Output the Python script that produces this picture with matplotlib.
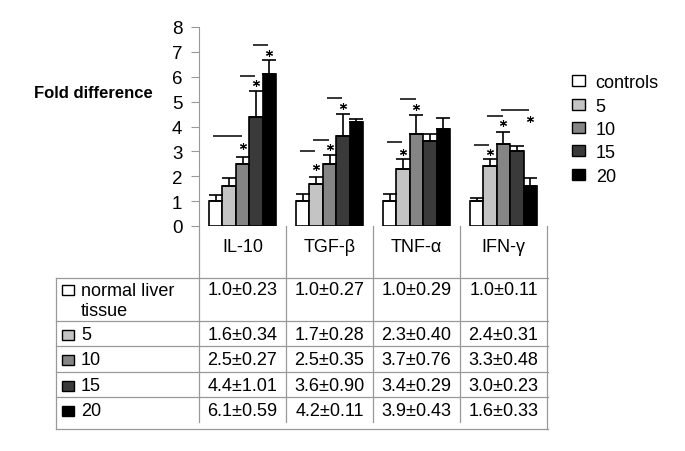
import numpy as np
import matplotlib
matplotlib.use("Agg")
import matplotlib.pyplot as plt
from matplotlib.patches import Patch, Rectangle
from matplotlib.transforms import blended_transform_factory

plt.rcParams['font.family'] = ['Liberation Sans', 'DejaVu Sans']

# data
cytokines = ['IL-10', 'TGF-β', 'TNF-α', 'IFN-γ']
groups = ['controls', '5', '10', '15', '20']
row_labels = ['normal liver\ntissue', '5', '10', '15', '20']
colors = ['#ffffff', '#c4c4c4', '#858585', '#3a3a3a', '#000000']

# fold difference (rows = group, cols = cytokine)
means = np.array([
    [1.0, 1.0, 1.0, 1.0],
    [1.6, 1.7, 2.3, 2.4],
    [2.5, 2.5, 3.7, 3.3],
    [4.4, 3.6, 3.4, 3.0],
    [6.1, 4.2, 3.9, 1.6],
])
errs = np.array([
    [0.23, 0.27, 0.29, 0.11],
    [0.34, 0.28, 0.40, 0.31],
    [0.27, 0.35, 0.76, 0.48],
    [1.01, 0.90, 0.29, 0.23],
    [0.59, 0.11, 0.43, 0.33],
])

# significance bars: (cytokine, from bar, to bar, height)
sig_lines = [(0, 0, 2, 3.6), (0, 2, 3, 6.05), (0, 3, 4, 7.26),
             (1, 0, 1, 3.02), (1, 1, 2, 3.47), (1, 2, 3, 5.16),
             (2, 0, 1, 3.39), (2, 1, 2, 5.12),
             (3, 0, 1, 3.27), (3, 1, 2, 4.44), (3, 2, 4, 4.68)]
# stars: (cytokine, bar, height)
stars = [(0, 2, 3.2), (0, 3, 5.75), (0, 4, 6.97),
         (1, 1, 2.38), (1, 2, 3.17), (1, 3, 4.84),
         (2, 1, 2.98), (2, 2, 4.80),
         (3, 1, 2.98), (3, 2, 4.13), (3, 4, 4.31)]

W, H = 685, 452
fig = plt.figure(figsize=(W / 100, H / 100), dpi=100)
ax = fig.add_axes([199 / W, (H - 227) / H, (547 - 199) / W, (227 - 28) / H])

x = np.arange(len(cytokines))
bw = 0.154
for i, g in enumerate(groups):
    pos = x + (i - 2) * bw
    ax.bar(pos, means[i], bw, color=colors[i], edgecolor='black', linewidth=1.2, zorder=2)
    ax.errorbar(pos, means[i], yerr=[np.zeros(len(x)), errs[i]], fmt='none',
                ecolor='black', elinewidth=1.2, capsize=5, capthick=1.2, zorder=3)

for c, a, b, yv in sig_lines:
    x0 = c + (a - 2) * bw - 0.03
    x1 = c + (b - 2) * bw - 0.01
    ax.plot([x0, x1], [yv, yv], color='black', lw=1.1, solid_capstyle='butt')
for c, b, yv in stars:
    ax.plot(c + (b - 2) * bw, yv, marker=(6, 2, 0), ms=5, mew=0.8, color='black', ls='none')

ax.set_xlim(-0.5, 3.5)
ax.set_ylim(0, 8)
ax.set_yticks(range(9))
ax.set_xticks([])
ax.tick_params(axis='y', length=6, width=0.8, color='#999999', pad=6, labelsize=13.5)
for s in ['top', 'right', 'bottom']:
    ax.spines[s].set_visible(False)
ax.spines['left'].set_color('#999999')
ax.spines['left'].set_linewidth(0.8)

fig.text(34 / W, 1 - 94 / H, 'Fold difference', fontsize=12, fontweight='bold', va='center')

handles = [Patch(facecolor=c, edgecolor='black', linewidth=1.0) for c in colors]
fig.legend(handles, groups, loc='upper left', bbox_to_anchor=(565 / W, 1 - 68 / H),
           frameon=False, fontsize=13, handlelength=0.7, handleheight=0.55,
           handletextpad=0.6, labelspacing=0.35, borderaxespad=0)

# table below the chart
tab = fig.add_axes([0, 0, 1, 1])
tab.set_xlim(0, W)
tab.set_ylim(H, 0)
tab.axis('off')
tab.patch.set_alpha(0)
bt = blended_transform_factory(ax.transData, tab.transData)

grid = '#999999'
row_y = [279, 322, 347, 373, 398, 430]
for yv in row_y:
    tab.plot([56, 548], [yv, yv], color=grid, lw=0.9)
for xb in [-0.5, 0.5, 1.5, 2.5]:
    tab.plot([xb, xb], [227, 423], color=grid, lw=0.9, transform=bt)
tab.plot([3.5, 3.5], [227, 430], color=grid, lw=0.9, transform=bt)
tab.plot([56, 56], [279, 430], color=grid, lw=0.9)

for j, name in enumerate(cytokines):
    tab.text(j, 248, name, transform=bt, ha='center', va='center', fontsize=13)

text_y = [291, 336, 361, 387, 412]
for i in range(len(groups)):
    ty = text_y[i]
    tab.add_patch(Rectangle((62, ty - 5), 12, 10, facecolor=colors[i], edgecolor='black', lw=1.0))
    tab.text(81, ty - 8 if i == 0 else ty, row_labels[i], fontsize=13,
             va='top' if i == 0 else 'center', linespacing=1.25)
    for j in range(len(cytokines)):
        tab.text(j, ty, f'{means[i, j]:.1f}±{errs[i, j]:.2f}', transform=bt,
                 ha='center', va='center', fontsize=13)

fig.savefig('out.png', dpi=100)
